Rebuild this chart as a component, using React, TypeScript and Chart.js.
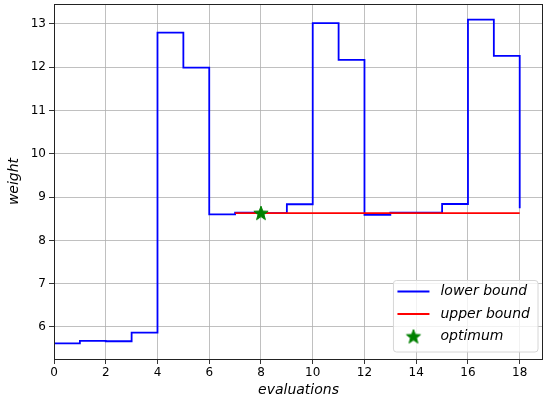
import React, { useEffect, useRef } from "react";
import { Chart, registerables } from "chart.js";

Chart.register(...registerables);

const evaluations = [0, 1, 2, 3, 4, 5, 6, 7, 8, 9, 10, 11, 12, 13, 14, 15, 16, 17, 18];
const lowerBound = [5.62, 5.68, 5.67, 5.87, 12.80, 11.99, 8.60, 8.64, 8.63, 8.835, 13.02, 12.17, 8.59, 8.64, 8.64, 8.84, 13.10, 12.26, 8.74];
const upperX = [7, 8, 9, 10, 11, 12, 13, 14, 15, 16, 17, 18];
const upperBound = [8.63, 8.63, 8.63, 8.63, 8.63, 8.63, 8.63, 8.63, 8.63, 8.63, 8.63, 8.63];
const optimumX = [8];
const optimumY = [8.63];
const xTicks = [0, 2, 4, 6, 8, 10, 12, 14, 16, 18];
const yTicks = [6, 7, 8, 9, 10, 11, 12, 13];
const seriesLabels = ["lower bound", "upper bound", "optimum"];

const FONT = "'DejaVu Sans', sans-serif";

function drawStarPath(ctx: CanvasRenderingContext2D, cx: number, cy: number, R: number, r: number) {
  ctx.beginPath();
  for (let i = 0; i < 10; i++) {
    const rad = i % 2 === 0 ? R : r;
    const a = -Math.PI / 2 + (i * Math.PI) / 5;
    const x = cx + rad * Math.cos(a);
    const y = cy + rad * Math.sin(a);
    if (i === 0) ctx.moveTo(x, y);
    else ctx.lineTo(x, y);
  }
  ctx.closePath();
}

function makeStar(): HTMLCanvasElement {
  const c = document.createElement("canvas");
  c.width = 18;
  c.height = 18;
  const ctx = c.getContext("2d")!;
  drawStarPath(ctx, 9, 9.5, 7.5, 3.1);
  ctx.fillStyle = "#008000";
  ctx.fill();
  ctx.lineWidth = 1;
  ctx.strokeStyle = "#008000";
  ctx.stroke();
  return c;
}

const framePlugin = {
  id: "frame",
  afterDraw(chart: any) {
    const { ctx, chartArea } = chart;
    ctx.save();
    ctx.strokeStyle = "#222";
    ctx.lineWidth = 1;
    ctx.strokeRect(chartArea.left + 0.5, chartArea.top + 0.5, chartArea.right - chartArea.left - 1, chartArea.bottom - chartArea.top);
    ctx.restore();
  },
};

const legendPlugin = {
  id: "mplLegend",
  afterDraw(chart: any) {
    const { ctx, chartArea } = chart;
    const ds = chart.data.datasets;
    ctx.save();
    ctx.font = `italic 14px ${FONT}`;
    let maxW = 0;
    ds.forEach((d: any) => {
      maxW = Math.max(maxW, ctx.measureText(d.label).width);
    });
    const rowH = 22.5;
    const w = 4 + 32 + 11 + maxW + 8;
    const h = 10 + rowH * ds.length - 6;
    const right = chartArea.right - 5;
    const bottom = chartArea.bottom - 7;
    const left = right - w;
    const top = bottom - h;
    const rr = 3;
    ctx.beginPath();
    ctx.moveTo(left + rr, top);
    ctx.lineTo(right - rr, top);
    ctx.arcTo(right, top, right, top + rr, rr);
    ctx.lineTo(right, bottom - rr);
    ctx.arcTo(right, bottom, right - rr, bottom, rr);
    ctx.lineTo(left + rr, bottom);
    ctx.arcTo(left, bottom, left, bottom - rr, rr);
    ctx.lineTo(left, top + rr);
    ctx.arcTo(left, top, left + rr, top, rr);
    ctx.closePath();
    ctx.fillStyle = "rgba(255,255,255,0.8)";
    ctx.fill();
    ctx.strokeStyle = "#d6d6d6";
    ctx.lineWidth = 1;
    ctx.stroke();
    ds.forEach((d: any, i: number) => {
      const y = top + 11 + i * rowH;
      const x0 = left + 4;
      if (d.showLine === false) {
        ctx.drawImage(d.pointStyle, x0 + 16 - 9, y - 9);
      } else {
        ctx.strokeStyle = d.borderColor;
        ctx.lineWidth = 1.8;
        ctx.beginPath();
        ctx.moveTo(x0, y);
        ctx.lineTo(x0 + 32, y);
        ctx.stroke();
      }
      ctx.fillStyle = "#000";
      ctx.textBaseline = "middle";
      ctx.textAlign = "left";
      ctx.fillText(d.label, x0 + 32 + 11, y);
    });
    ctx.restore();
  },
};

export default function App() {
  const ref = useRef<HTMLCanvasElement | null>(null);
  useEffect(() => {
    document.body.style.margin = "0";
    if (!ref.current) return;
    const star = makeStar();
    const chart = new Chart(ref.current, {
      type: "line",
      data: {
        datasets: [
          {
            label: seriesLabels[0],
            data: evaluations.map((x, i) => ({ x, y: lowerBound[i] })),
            borderColor: "#0000ff",
            borderWidth: 1.8,
            stepped: true,
            pointRadius: 0,
            fill: false,
            order: 3,
          },
          {
            label: seriesLabels[1],
            data: upperX.map((x, i) => ({ x, y: upperBound[i] })),
            borderColor: "#ff0000",
            borderWidth: 1.8,
            pointRadius: 0,
            fill: false,
            order: 2,
          },
          {
            label: seriesLabels[2],
            data: optimumX.map((x, i) => ({ x, y: optimumY[i] })),
            showLine: false,
            pointStyle: star as any,
            pointRadius: 8,
            borderColor: "#008000",
            backgroundColor: "#008000",
            order: 1,
          },
        ],
      },
      options: {
        animation: false,
        responsive: false,
        events: [],
        layout: { autoPadding: false, padding: { top: 4, right: 0, left: 0, bottom: 0 } },
        plugins: { legend: { display: false }, tooltip: { enabled: false } },
        scales: {
          x: {
            type: "linear",
            min: 0,
            max: 18.9,
            afterBuildTicks: (s: any) => {
              s.ticks = xTicks.map((v) => ({ value: v }));
            },
            afterFit: (s: any) => {
              s.height = 44;
              s.paddingLeft = 0;
              s.paddingRight = 0;
            },
            ticks: {
              color: "#000",
              font: { family: FONT, size: 12 },
              padding: 2,
              maxRotation: 0,
              autoSkip: false,
            },
            grid: { color: "#b0b0b0", lineWidth: 0.8, tickColor: "#000", tickLength: 5 },
            border: { display: true, color: "#222", width: 1 },
            title: {
              display: true,
              text: "evaluations",
              color: "#000",
              font: { family: FONT, size: 14, style: "italic" },
              padding: { top: 0, bottom: 4 },
            },
          },
          y: {
            type: "linear",
            min: 5.26,
            max: 13.46,
            afterBuildTicks: (s: any) => {
              s.ticks = yTicks.map((v) => ({ value: v }));
            },
            afterFit: (s: any) => {
              s.width = 54;
              s.paddingTop = 0;
              s.paddingBottom = 0;
            },
            ticks: {
              color: "#000",
              font: { family: FONT, size: 12 },
              padding: 3,
              autoSkip: false,
            },
            grid: { color: "#b0b0b0", lineWidth: 0.8, tickColor: "#000", tickLength: 5 },
            border: { display: true, color: "#222", width: 1 },
            title: {
              display: true,
              text: "weight",
              color: "#000",
              font: { family: FONT, size: 14, style: "italic" },
              padding: { top: 6, bottom: 0 },
            },
          },
        },
      },
      plugins: [framePlugin, legendPlugin],
    } as any);
    return () => chart.destroy();
  }, []);
  return (
    <div style={{ width: 543, height: 403 }}>
      <canvas ref={ref} width={543} height={403} />
    </div>
  );
}
